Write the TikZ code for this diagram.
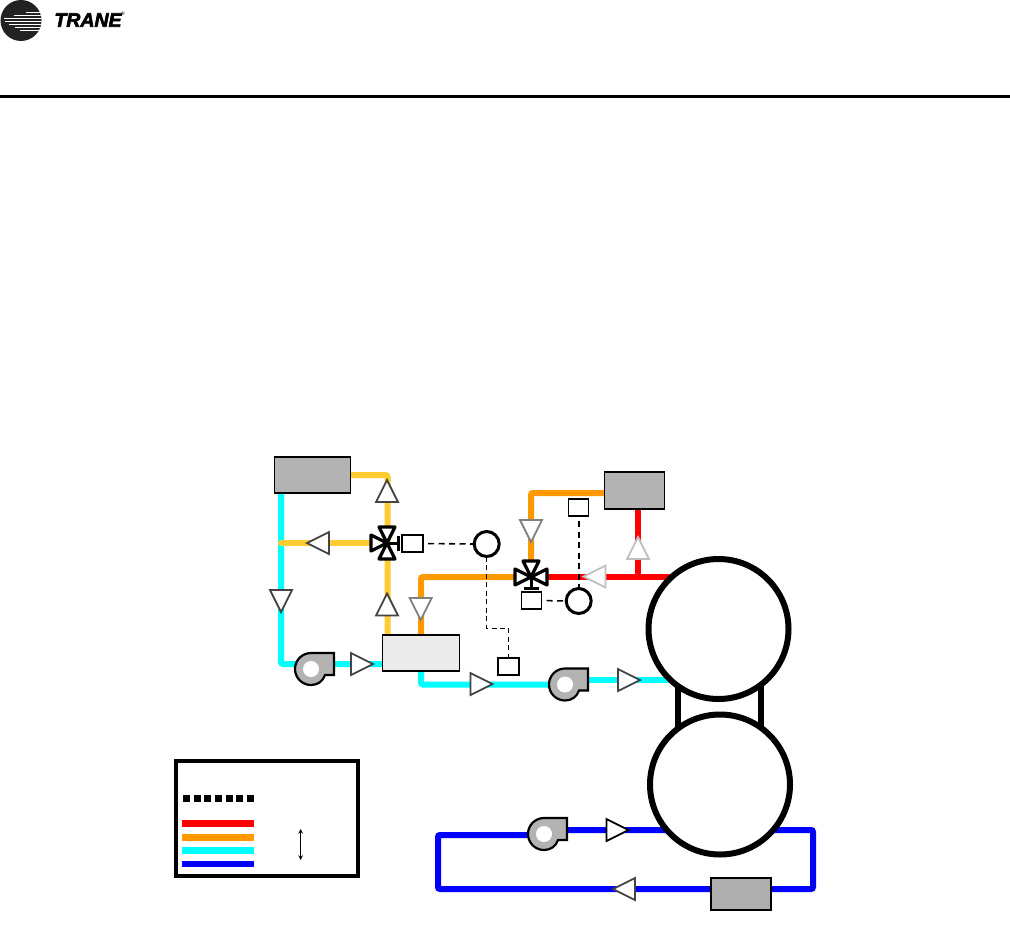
\documentclass[tikz,border=0pt]{standalone}
\usepackage{fontspec}
\setmainfont{Liberation Sans}
\newfontfamily\logofont[BoldItalicFeatures={FakeBold=3}]{Liberation Sans}
\usetikzlibrary{backgrounds}
\definecolor{pipeyellow}{HTML}{FFCC33}
\definecolor{pipeorange}{HTML}{FF9900}
\definecolor{pipecyan}{HTML}{00FFFF}
\definecolor{pipeblue}{HTML}{0000FF}
\definecolor{pipered}{HTML}{FF0000}
\definecolor{unitgray}{HTML}{B3B3B3}
\definecolor{tipdark}{HTML}{444444}
\definecolor{tipmid}{HTML}{808080}
\definecolor{tiplight}{HTML}{C0C0C0}
\definecolor{logodark}{HTML}{222222}
\begin{document}
\begin{tikzpicture}[
  x=1pt, y=-1pt,
  pipe/.style={line width=6pt, rounded corners=2pt},
  unitbox/.style={rectangle, draw, line width=1.5pt, fill=unitgray, inner sep=0pt, outer sep=0pt},
  ctrlbox/.style={rectangle, draw, line width=1.2pt, fill=white, minimum width=20pt, minimum height=17pt, inner sep=0pt, outer sep=0pt},
  sensor/.style={circle, draw, line width=3pt, fill=white, minimum size=25pt, inner sep=0pt, outer sep=0pt},
  vessel/.style={circle, draw, line width=6pt, fill=white, minimum size=140pt, inner sep=0pt, outer sep=0pt},
  signal/.style={line width=1.6pt, dash pattern=on 6pt off 4.5pt, dash phase=-5pt},
  thinsignal/.style={line width=1pt, dash pattern=on 5pt off 3.5pt},
  pics/flowtip/.style={code={
    \draw[line width=1.8pt, fill=white, line join=miter, pic actions] (11,0) -- (-11,-11) -- (-11,11) -- cycle;
  }},
  pics/pump/.style={code={
    \draw[line width=2.2pt, fill=unitgray] (14,6) .. controls (12,12) and (7,16) .. (0,16)
      .. controls (-8.84,16) and (-16,8.84) .. (-16,0)
      .. controls (-16,-8.84) and (-8.84,-16) .. (0,-16) -- (23,-16) -- (23,6) -- cycle;
    \fill[white] (0,0) circle[radius=8pt];
  }},
  pics/valve/.style={code={
    \draw[line width=3.2pt, fill=white, line join=round] (0,0) -- (-8,-16) -- (8,-16) -- cycle;
    \draw[line width=3.2pt, fill=white, line join=round] (0,0) -- (-16,-8) -- (-16,8) -- cycle;
    \draw[line width=3.2pt, fill=white, line join=round] (0,0) -- (-8,16) -- (8,16) -- cycle;
    \draw[line width=3pt] (0,0) -- (11,0);
    \draw[line width=3pt] (11,-7.5) -- (11,7.5);
  }}
]
\useasboundingbox (0,0) rectangle (1010,935);

\node[circle, fill=logodark, minimum size=41pt, inner sep=0pt] (logoDisk) at (21,20.5) {};
\begin{scope}
  \clip (21,20.5) circle[radius=20.5pt];
  \foreach \yy/\xx/\ww in {12.5/26/0.6, 15.5/14/0.8, 18.5/4/1, 21.5/5/1, 24.5/9/1, 27.5/15/0.8, 30.5/20/0.6}
    \draw[white, line width=\ww pt] (\xx,\yy) -- (42,\yy);
\end{scope}
\node[inner sep=0pt, font=\fontsize{19.5}{20}\logofont\bfseries\itshape] (logoText) at (88,20) {TRANE};
\node[inner sep=0pt, font=\fontsize{5}{5}\selectfont] (logoMark) at (123,14) {®};
\draw[line width=3pt] (0,96.5) -- (1010,96.5);

\coordinate (valveA) at (387,543);
\coordinate (valveB) at (531,577);
\coordinate (pumpA) at (311,669);
\coordinate (pumpB) at (565,684.5);
\coordinate (pumpC) at (544,834);
\coordinate (teeA) at (281,543);
\coordinate (kneeA) at (497,628);
\coordinate (loopSE) at (813,889);
\coordinate (loopSW) at (438,889);

\node[unitbox, minimum width=76pt, minimum height=36pt] (boxA) at (312.5,475) {};
\node[unitbox, minimum width=60pt, minimum height=37pt] (boxB) at (634.7,490.5) {};
\node[unitbox, minimum width=60pt, minimum height=32pt, fill=unitgray!97!black] (boxC) at (741,894) {};
\node[unitbox, minimum width=77pt, minimum height=36pt, fill=black!8] (boxW) at (421,653) {};

\node[vessel] (condenser) at (718.5,629) {};
\node[vessel] (evaporator) at (720,784.5) {};

\node[ctrlbox, minimum width=21pt] (ctrlA) at (412.5,543.5) {};
\node[ctrlbox] (ctrlB) at (531.7,600.5) {};
\node[ctrlbox, minimum width=21pt] (ctrlC) at (508.5,666.5) {};
\node[ctrlbox] (ctrlD) at (578.7,507.5) {};
\node[sensor] (sensorA) at (486.7,544) {};
\node[sensor] (sensorB) at (578.7,601) {};

\begin{pgfonlayer}{background}
  \draw[pipe, pipecyan] ([xshift=6.5pt]boxA.south west) |- ([yshift=-11pt]boxW.west);
  \draw[pipe, pipecyan] (boxW.south) |- (pumpB);
  \draw[pipe, pipecyan] ([yshift=4.5pt]pumpB) -- ([yshift=4.5pt]pumpB -| condenser.center);
  \draw[pipe, pipeyellow] (boxA.east) -| ([xshift=5pt]boxW.north west);
  \draw[pipe, pipeyellow, line cap=round] (valveA) -- (teeA);
  \draw[pipe, pipeorange] (boxW.north) |- (valveB);
  \draw[pipe, pipeorange] (valveB) |- ([yshift=-2.5pt]boxB.west);
  \draw[pipe, pipered] (valveB) -- (valveB -| condenser.center);
  \draw[pipe, pipered] ([xshift=3.5pt]boxB.south) -- ([xshift=3.5pt]boxB.south |- valveB);
  \draw[pipe, pipeblue] ([yshift=4pt]pumpC) -| (loopSE) -- (loopSW) |- ([yshift=-1pt]pumpC);
  \draw[line width=6pt] ([xshift=-40.5pt]condenser.center) -- ([xshift=-42pt]evaporator.center);
  \draw[line width=6pt] ([xshift=42.5pt]condenser.center) -- ([xshift=41pt]evaporator.center);
\end{pgfonlayer}

\draw[signal] (ctrlA.east) -- (sensorA.west);
\draw[signal] (ctrlB.east) -- (sensorB.west);
\draw[signal] (ctrlD.south) -- (sensorB.north);
\draw[thinsignal] (sensorA.south) |- (kneeA) -| (ctrlC.north);

\pic at (pumpA) {pump};
\pic at (pumpB) {pump};
\pic at (pumpC) {pump};
\pic at (valveA) {valve};
\pic[rotate=-90] at (valveB) {valve};

\pic[rotate=90, draw=tipdark] at (387,491) {flowtip};
\pic[rotate=90, draw=tipdark] at (387,604.5) {flowtip};
\pic[rotate=180, draw=tipdark] at (318,543) {flowtip};
\pic[rotate=-90, draw=tipdark] at (281,601) {flowtip};
\pic[rotate=-90, draw=tipmid] at (420.7,609) {flowtip};
\pic[draw=tipdark] at (362,664) {flowtip};
\pic[draw=tipdark] at (481.5,684) {flowtip};
\pic[rotate=-90, draw=tipmid] at (531,531) {flowtip};
\pic[rotate=90, draw=tiplight] at (638,548) {flowtip};
\pic[rotate=180, draw=tiplight] at (594.5,576.5) {flowtip};
\pic[draw=tipdark] at (629,680) {flowtip};
\pic[draw=black] at (617.5,830) {flowtip};
\pic[rotate=180, draw=tipdark] at (624,889) {flowtip};

\node[rectangle, draw, line width=4pt, minimum width=182pt, minimum height=115pt, inner sep=0pt] (legend) at (267,818.5) {};
\coordinate (legendW) at (182,798);
\coordinate (legendE) at (254,798);
\draw[line width=7pt, dash pattern=on 7pt off 3.67pt] ([xshift=1pt]legendW) -- (legendE);
\foreach \col/\yy/\wd in {pipered/25/7, pipeorange/39/7, pipecyan/52/7, pipeblue/66/6}
  \draw[\col, line width=\wd pt] ([yshift=-\yy pt]legendW) -- ([yshift=-\yy pt]legendE);
\coordinate (spanTop) at (300.7,829);
\coordinate (spanBot) at (300.7,860);
\draw[<->, >=stealth, line width=1.1pt] (spanTop) -- (spanBot);
\end{tikzpicture}
\end{document}
